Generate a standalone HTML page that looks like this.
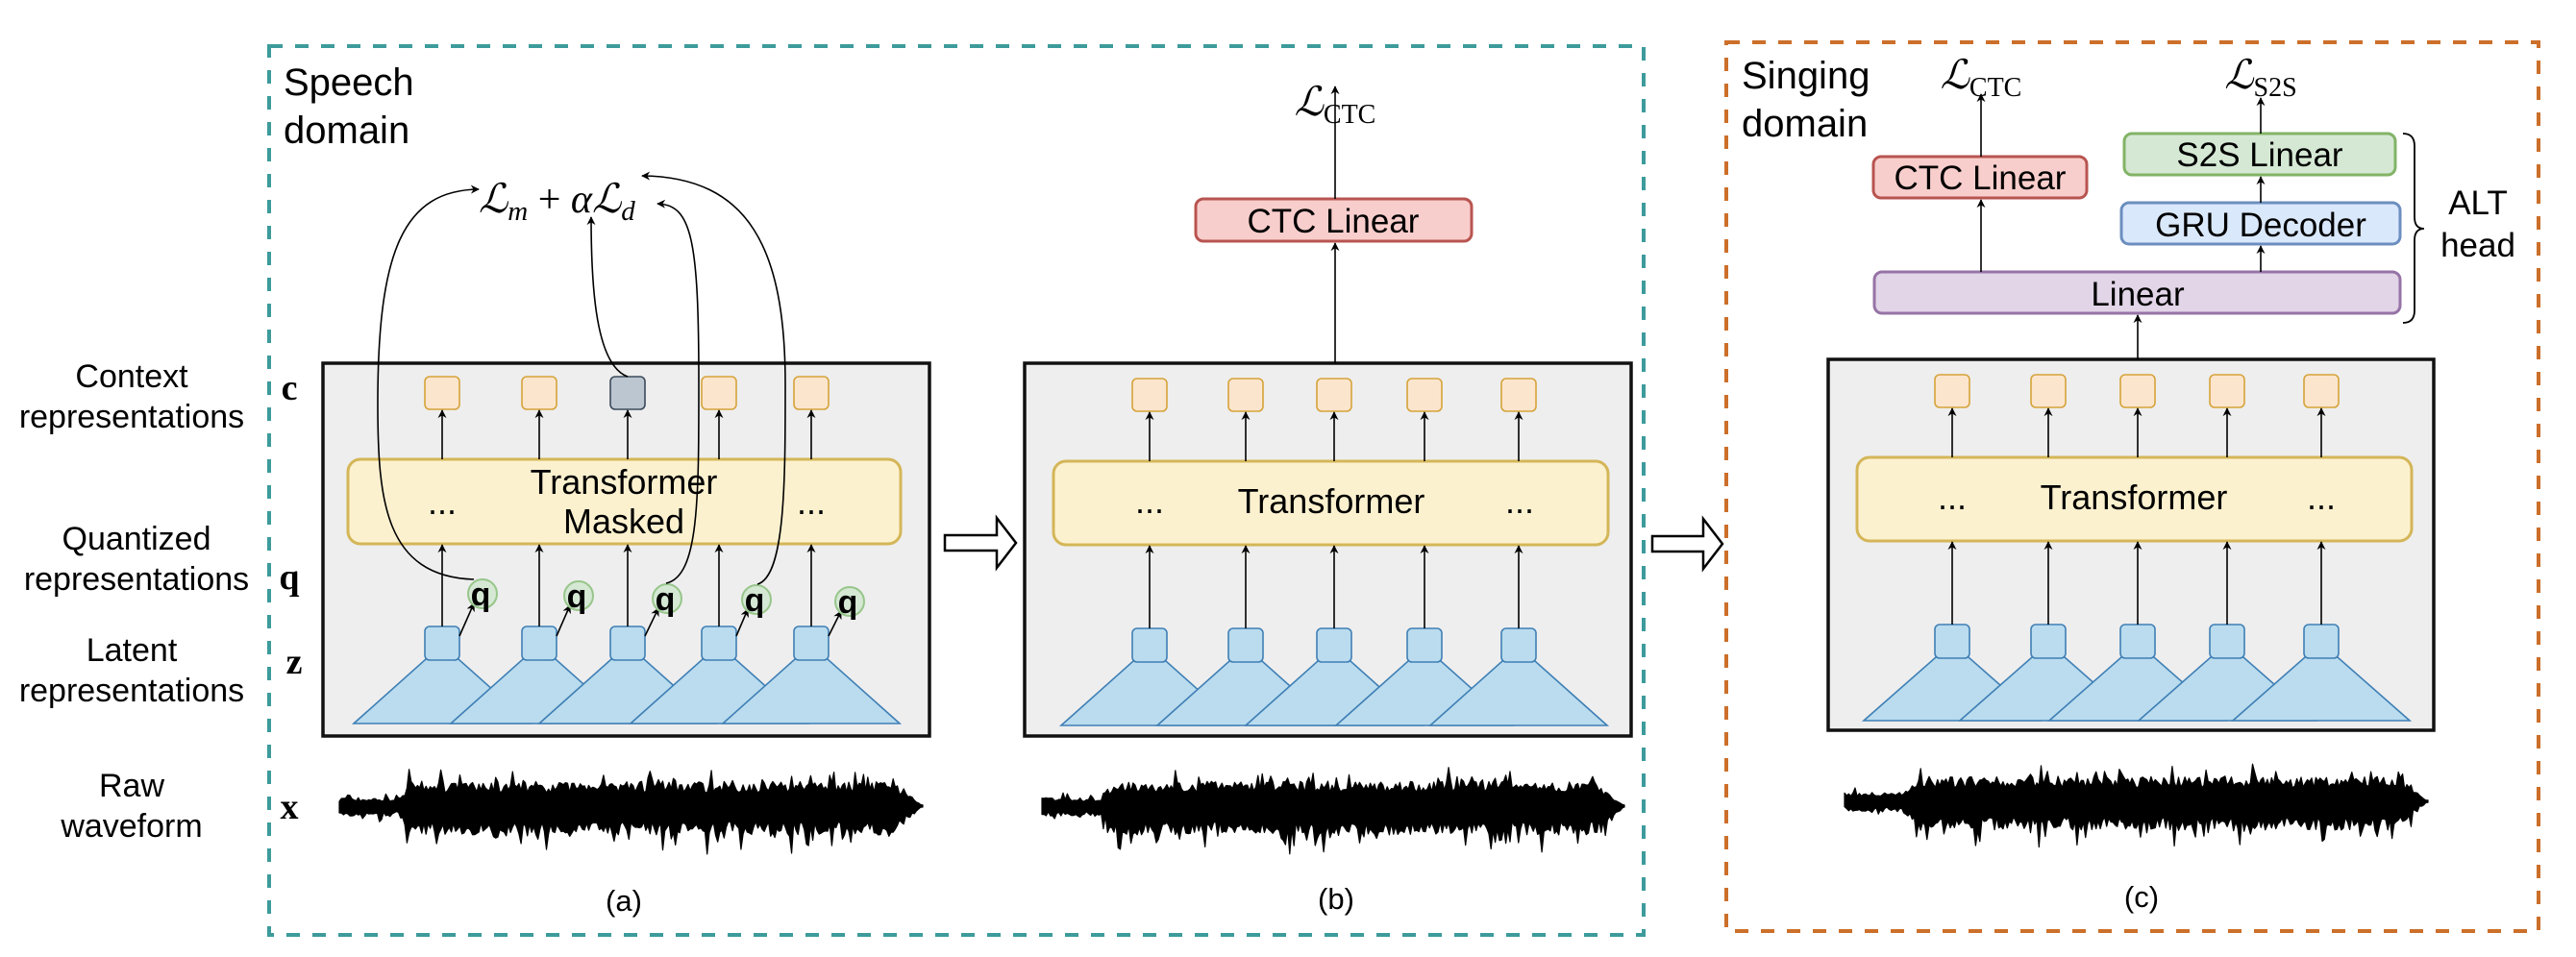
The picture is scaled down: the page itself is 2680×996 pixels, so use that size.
<!DOCTYPE html>
<html><head><meta charset="utf-8"><style>
html,body{margin:0;padding:0;background:#fff;}
svg{display:block;}
text{font-family:"Liberation Sans",sans-serif;}
.m{font-family:"Liberation Serif",serif;}
</style></head><body>
<svg id="s" xmlns="http://www.w3.org/2000/svg" width="2680" height="996" viewBox="0 0 2680 996">
<defs>
<marker id="ah" viewBox="0 0 10 10" refX="9" refY="5" markerWidth="9" markerHeight="9" markerUnits="userSpaceOnUse" orient="auto">
<path d="M0,0 L10,5 L0,10 L3,5 z" fill="#000"/></marker>
</defs>
<g id="g"></g>
</svg>
<script>
var out=[];
function A(s){out.push(s);}
function line(x1,y1,x2,y2){A('<line x1="'+x1+'" y1="'+y1+'" x2="'+x2+'" y2="'+y2+'" stroke="#000" stroke-width="1.6" marker-end="url(#ah)"/>');}
function rect(x,y,w,h,rx,f,s,sw){A('<rect x="'+x+'" y="'+y+'" width="'+w+'" height="'+h+'" rx="'+rx+'" fill="'+f+'" stroke="'+s+'" stroke-width="'+(sw||2)+'"/>');}
function txt(x,y,t,sz,anchor,cls){A('<text x="'+x+'" y="'+y+'" font-size="'+sz+'" text-anchor="'+(anchor||'middle')+'"'+(cls?' class="'+cls+'"':'')+'>'+t+'</text>');}
var seed=7;function rnd(){seed=(seed*16807)%2147483647;return seed/2147483647;}
function wave(x0,x1,cy){
  var N=Math.round((x1-x0)/2.2),top=[],bot=[];
  for(var i=0;i<=N;i++){
    var x=x0+(x1-x0)*i/N,t=i/N,env;
    if(t<0.1)env=0.35;else if(t<0.12)env=0.35+(t-0.1)/0.02*0.65;else if(t>0.95)env=Math.max(0.05,(1-t)/0.05);else env=1;
    var a=(14+rnd()*12+(rnd()<0.15?rnd()*16:0))*env;
    var b=(16+rnd()*14+(rnd()<0.18?rnd()*22:0))*env;
    top.push(x.toFixed(1)+','+(cy-a).toFixed(1));bot.unshift(x.toFixed(1)+','+(cy+b).toFixed(1));
  }
  A('<polygon points="'+top.join(' ')+' '+bot.join(' ')+'" fill="#000" stroke="#000" stroke-width="1.2" stroke-linejoin="round"/>');
}
function panel(o){
  rect(o.x0,o.y0,o.x1-o.x0,o.y1-o.y0,0,'#eeeeee','#111',3.5);
  var cs=o.cs;
  for(var i=0;i<5;i++){var c=cs[i];
    A('<polygon points="'+(c-17)+','+(o.zy+34)+' '+(c+17)+','+(o.zy+34)+' '+(c+92)+','+o.tb+' '+(c-92)+','+o.tb+'" fill="#badcee" stroke="#3f7fb5" stroke-width="1.6"/>');}
  for(var i=0;i<5;i++){var c=cs[i];
    rect(c-18,o.zy,36,35,5,'#badcee','#3f7fb5',1.6);}
  rect(o.tx0,o.ty0,o.tx1-o.tx0,o.ty1-o.ty0,13,'#fcf1cf','#d4b658',3);
  for(var i=0;i<5;i++){var c=cs[i];
    rect(c-18,o.cy,36,34,5,(o.mask===i?'#bcc6d1':'#fbe5cd'),(o.mask===i?'#3b4a5a':'#d6a33a'),1.6);
    line(c,o.ty0,c,o.cy+35);
    line(c,o.zy,c,o.ty1+1);
  }
  wave(o.w0,o.w1,o.wy);
}
A('<rect x="280" y="48" width="1430" height="925" fill="none" stroke="#3d9b9b" stroke-width="4" stroke-dasharray="14 13"/>');
A('<rect x="1796" y="44" width="845" height="925" fill="none" stroke="#cc6f2a" stroke-width="4" stroke-dasharray="14 13"/>');
panel({x0:336,y0:378,x1:967,y1:766,cs:[460,561,653,748,844],zy:652,tb:753,tx0:362,ty0:478,tx1:937,ty1:566,cy:392,mask:2,w0:353,w1:960,wy:839});
panel({x0:1066,y0:378,x1:1697,y1:766,cs:[1196,1296,1388,1482,1580],zy:654,tb:755,tx0:1096,ty0:480,tx1:1673,ty1:567,cy:394,w0:1084,w1:1690,wy:839});
panel({x0:1902,y0:374,x1:2532,y1:760,cs:[2031,2131,2224,2317,2415],zy:650,tb:750,tx0:1932,ty0:476,tx1:2509,ty1:563,cy:390,w0:1919,w1:2526,wy:834});
txt(649,514,'Transformer',36);txt(649,555,'Masked',36);
txt(460,535,'...',36);txt(844,535,'...',36);
txt(1385,534,'Transformer',36);txt(1196,534,'...',36);txt(1581,534,'...',36);
txt(2220,530,'Transformer',36);txt(2031,530,'...',36);txt(2415,530,'...',36);
var qc=[[502,618],[602,620],[694,623],[787,624],[884,626]],zc=[460,561,653,748,844];
for(var i=0;i<5;i++){
  line(zc[i]+18,662,qc[i][0]-9,qc[i][1]+10);
  A('<circle cx="'+qc[i][0]+'" cy="'+qc[i][1]+'" r="15" fill="#d5e8d4" stroke="#97c68a" stroke-width="2"/>');
  A('<text x="'+(qc[i][0]-2)+'" y="'+(qc[i][1]+12)+'" font-size="34" font-weight="bold" text-anchor="middle">q</text>');
}
function curve(d){A('<path d="'+d+'" fill="none" stroke="#000" stroke-width="1.6" marker-end="url(#ah)"/>');}
curve('M493,603 C400,600 393,520 393,420 C393,260 420,198 498,197');
curve('M653,392 C620,380 615,300 615,226');
curve('M693,607 C727,600 727,520 727,400 C727,250 720,213 684,212');
curve('M788,608 C817,600 817,500 817,400 C817,260 780,184 668,183');
A('<text x="498" y="221" font-size="42" class="m" font-style="italic">ℒ<tspan font-size="29" dy="8">m</tspan><tspan dy="-8" font-style="normal"> + </tspan>α<tspan>ℒ</tspan><tspan font-size="29" dy="8">d</tspan></text>');
txt(137,403,'Context',34);txt(137,445,'representations',34);
txt(142,572,'Quantized',34);txt(142,614,'representations',34);
txt(137,688,'Latent',34);txt(137,730,'representations',34);
txt(137,829,'Raw',34);txt(137,871,'waveform',34);
A('<text x="301" y="416" font-size="38" class="m" font-weight="bold" text-anchor="middle">c</text>');
A('<text x="301" y="613" font-size="38" class="m" font-weight="bold" text-anchor="middle">q</text>');
A('<text x="306" y="701" font-size="38" class="m" font-weight="bold" text-anchor="middle">z</text>');
A('<text x="301" y="852" font-size="38" class="m" font-weight="bold" text-anchor="middle">x</text>');
txt(295,99,'Speech',40,'start');txt(295,149,'domain',40,'start');
txt(1812,92,'Singing',40,'start');txt(1812,142,'domain',40,'start');
txt(649,948,'(a)',31);txt(1390,946,'(b)',31);txt(2228,944,'(c)',31);
function harrow(x0,x1,y){A('<polygon points="'+x0+','+(y-8)+' '+(x1-20)+','+(y-8)+' '+(x1-20)+','+(y-26)+' '+x1+','+y+' '+(x1-20)+','+(y+26)+' '+(x1-20)+','+(y+8)+' '+x0+','+(y+8)+'" fill="#fff" stroke="#000" stroke-width="2.5"/>');}
harrow(983,1057,565);harrow(1719,1792,566);
rect(1244,207,287,44,8,'#f8cecc','#b85450',3);txt(1387,242,'CTC Linear',35);
line(1389,378,1389,253);line(1389,207,1389,90);
A('<text x="1389" y="120" font-size="42" class="m" text-anchor="middle" font-style="italic">ℒ<tspan font-style="normal" font-size="28" dy="8">CTC</tspan></text>');
rect(1950,283,547,43,8,'#e1d5e7','#9673a6',3);txt(2224,318,'Linear',35);
rect(1949,163,222,43,8,'#f8cecc','#b85450',3);txt(2060,197,'CTC Linear',35);
rect(2207,211,290,43,8,'#dae8fc','#6c8ebf',3);txt(2352,246,'GRU Decoder',35);
rect(2210,139,282,43,8,'#d5e8d4','#82b366',3);txt(2351,173,'S2S Linear',35);
line(2224,374,2224,328);line(2061,283,2061,208);line(2061,163,2061,98);
line(2352,283,2352,256);line(2352,211,2352,184);line(2352,139,2352,102);
A('<text x="2061" y="92" font-size="42" class="m" text-anchor="middle" font-style="italic">ℒ<tspan font-style="normal" font-size="28" dy="8">CTC</tspan></text>');
A('<text x="2352" y="92" font-size="42" class="m" text-anchor="middle" font-style="italic">ℒ<tspan font-style="normal" font-size="28" dy="8">S2S</tspan></text>');
A('<path d="M2500,139 Q2512,139 2512,152 L2512,226 Q2512,238 2522,238 Q2512,238 2512,250 L2512,323 Q2512,336 2500,336" fill="none" stroke="#000" stroke-width="1.8"/>');
txt(2578,223,'ALT',35);txt(2578,267,'head',35);
document.getElementById('g').innerHTML=out.join('');
</script>
</body></html>
